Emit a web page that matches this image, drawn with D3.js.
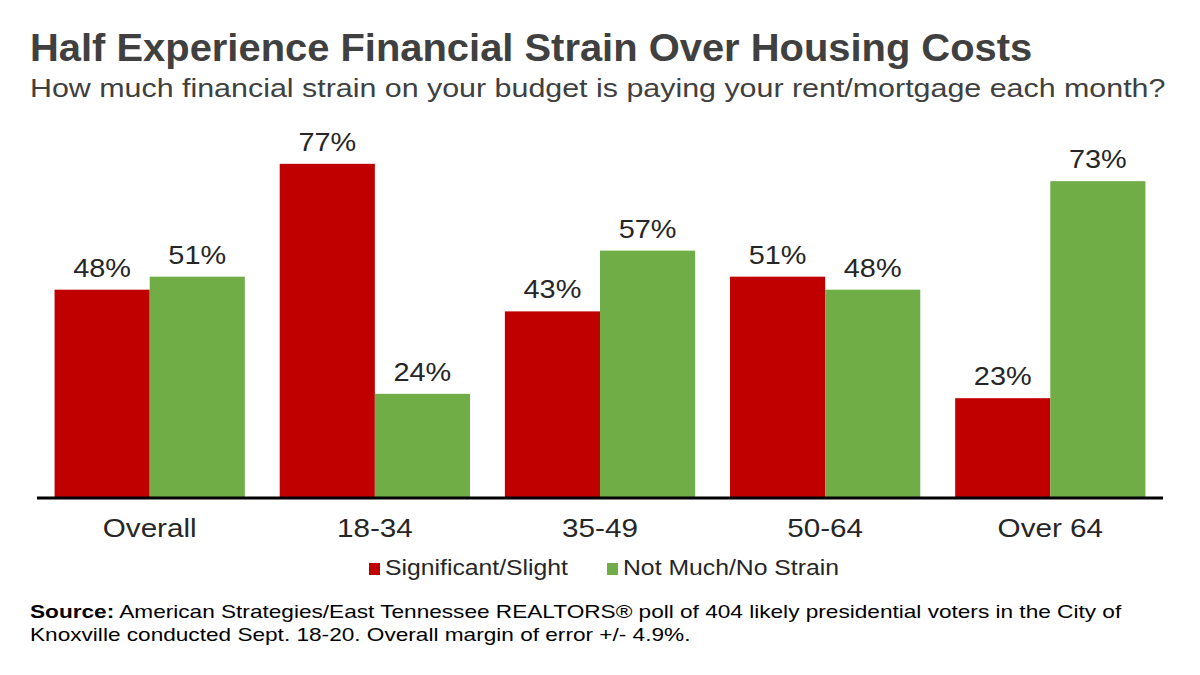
<!DOCTYPE html>
<html>
<head>
<meta charset="utf-8">
<script src="https://cdn.jsdelivr.net/npm/d3@7"></script>
<style>
  body { margin: 0; background: #fff; }
  text { font-family: "Liberation Sans", Arial, Helvetica, sans-serif; }
</style>
</head>
<body>
<svg></svg>
<script>
const size = { w: 1200, h: 675 };
const svg = d3.select("svg").attr("width", size.w).attr("height", size.h);

// data
const categories = ["Overall", "18-34", "35-49", "50-64", "Over 64"];
const seriesNames = ["Significant/Slight", "Not Much/No Strain"];
const strainValues = [48, 77, 43, 51, 23];
const noStrainValues = [51, 24, 57, 48, 73];
const colors = ["#c00000", "#70ad47"];

const rows = categories.map((c, i) => ({ cat: c, vals: [strainValues[i], noStrainValues[i]] }));

// the reference typeface is wider than Liberation Sans, so widen glyphs a bit
function stretch(sel, k) {
	sel.each(function () {
		const w = this.getComputedTextLength();
		d3.select(this).attr("textLength", w * k).attr("lengthAdjust", "spacingAndGlyphs");
	});
}

// title + subtitle
svg.append("text")
	.attr("x", 30).attr("y", 61)
	.attr("font-size", 38).attr("font-weight", "bold")
	.attr("fill", "#404040")
	.text("Half Experience Financial Strain Over Housing Costs")
	.call(stretch, 1.05);

svg.append("text")
	.attr("x", 30).attr("y", 97)
	.attr("font-size", 26.5)
	.attr("fill", "#404040")
	.text("How much financial strain on your budget is paying your rent/mortgage each month?")
	.call(stretch, 1.147);

// scales
const x = d3.scaleBand().domain(categories).range([37, 1163]).paddingInner(0.155).paddingOuter(0.078);
const xs = d3.scaleBand().domain([0, 1]).range([0, x.bandwidth()]);
const y = d3.scaleLinear().domain([0, 100]).range([498, 64]);

const groups = svg.append("g").selectAll("g")
	.data(rows)
	.join("g")
	.attr("transform", d => `translate(${x(d.cat)},0)`);

groups.selectAll("rect")
	.data(d => d.vals)
	.join("rect")
	.attr("x", (d, i) => xs(i))
	.attr("y", d => y(d))
	.attr("width", xs.bandwidth())
	.attr("height", d => y(0) - y(d))
	.attr("fill", (d, i) => colors[i]);

groups.selectAll("text")
	.data(d => d.vals)
	.join("text")
	.attr("x", (d, i) => xs(i) + xs.bandwidth() / 2)
	.attr("y", d => y(d) - 13)
	.attr("text-anchor", "middle")
	.attr("font-size", 26)
	.attr("fill", "#262626")
	.text(d => d + "%")
	.call(stretch, 1.11);

// axis
const xAxis = svg.append("g")
	.attr("transform", `translate(0,${y(0)})`)
	.call(d3.axisBottom(x).tickSize(0).tickPadding(20.5));
xAxis.select(".domain").attr("stroke", "#000").attr("stroke-width", 3)
	.attr("d", `M${x.range()[0]},0H${x.range()[1]}`);
xAxis.selectAll(".tick text")
	.attr("font-size", 26)
	.attr("fill", "#262626")
	.attr("font-family", "Liberation Sans, Arial, sans-serif")
	.call(stretch, 1.14);

// legend
const legend = svg.append("g").attr("transform", "translate(369,575)");
const legendX = [0, 238];
seriesNames.forEach((name, i) => {
	const g = legend.append("g").attr("transform", `translate(${legendX[i]},0)`);
	g.append("rect").attr("x", 0).attr("y", -12).attr("width", 11).attr("height", 12).attr("fill", colors[i]);
	g.append("text").attr("x", 16).attr("y", 0).attr("font-size", 22).attr("fill", "#262626")
		.text(name).call(stretch, 1.125);
});

// source note
const note = svg.append("text").attr("x", 30).attr("y", 618).attr("font-size", 19).attr("fill", "#000");
note.append("tspan").attr("font-weight", "bold").text("Source:");
note.append("tspan").text(" American Strategies/East Tennessee REALTORS\u00ae poll of 404 likely presidential voters in the City of");
note.call(stretch, 1.19);
svg.append("text").attr("x", 30).attr("y", 641).attr("font-size", 19).attr("fill", "#000")
	.text("Knoxville conducted Sept. 18-20. Overall margin of error +/- 4.9%.")
	.call(stretch, 1.19);
</script>
</body>
</html>
